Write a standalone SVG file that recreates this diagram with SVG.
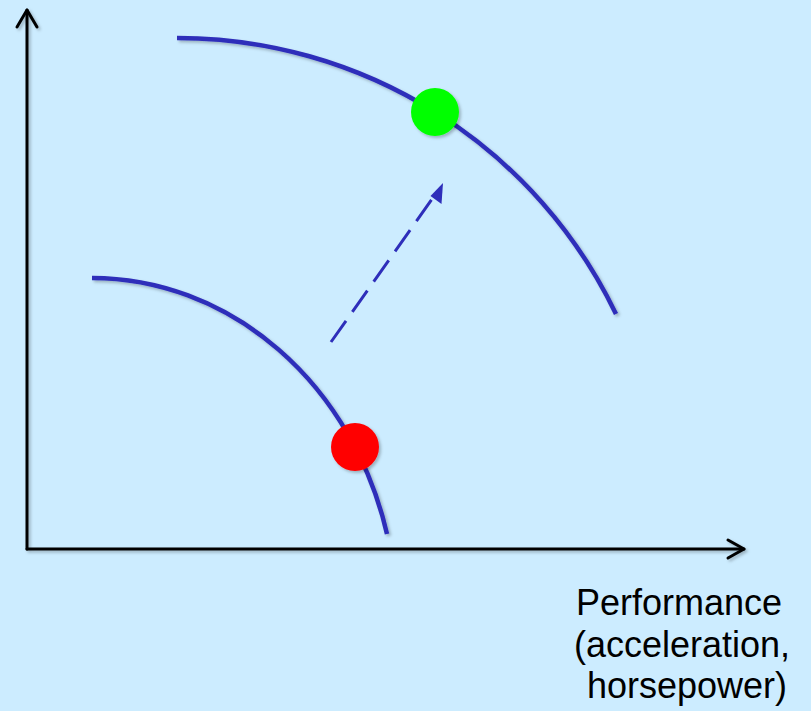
<svg xmlns="http://www.w3.org/2000/svg" width="811" height="711" viewBox="0 0 811 711">
<style>
.axis{fill:none;stroke:#000;stroke-width:3;stroke-linecap:round;stroke-linejoin:round}
.curve{fill:none;stroke:#2E2EBA;stroke-width:4.5;stroke-linecap:butt}
.lbl{font-family:"Liberation Sans",Arial,sans-serif;font-size:36px;fill:#000}
</style>
<defs>
<filter id="sh" x="-20%" y="-20%" width="140%" height="140%">
<feDropShadow dx="2" dy="2" stdDeviation="1.8" flood-color="#000" flood-opacity="0.25"/>
</filter>
</defs>
<rect width="811" height="711" fill="#CCECFF"/>
<g id="connectors">
<g filter="url(#sh)">
<path class="axis" d="M27,549 V10"/>
<path class="axis" d="M17,27 L27,10 L37,27"/>
<path class="axis" d="M27,549 H744"/>
<path class="axis" d="M728,540 L744,549 L728,558"/>
</g>
<g id="shift-arrow">
<path d="M331,342 L437,192" fill="none" stroke="#2E2EBA" stroke-width="3" stroke-dasharray="26 11"/>
<path d="M443,183 L430.5,196 L441.5,204 Z" fill="#2E2EBA"/>
</g>
</g>
<g id="curve-new" filter="url(#sh)">
<path class="curve" d="M177,38 A487,487 0 0 1 616,314"/>
</g>
<g id="curve-old" filter="url(#sh)">
<path class="curve" d="M92,278 A305,341 0 0 1 387,534"/>
</g>
<g id="point-new" filter="url(#sh)">
<circle cx="435" cy="112" r="24" fill="#00FF00"/>
</g>
<g id="point-old" filter="url(#sh)">
<circle cx="355" cy="447" r="24" fill="#FF0000"/>
</g>
<g id="axis-label">
<text class="lbl" x="576" y="615">Performance</text>
<text class="lbl" x="574" y="657">(acceleration,</text>
<text class="lbl" x="587" y="698">horsepower)</text>
</g>
</svg>
